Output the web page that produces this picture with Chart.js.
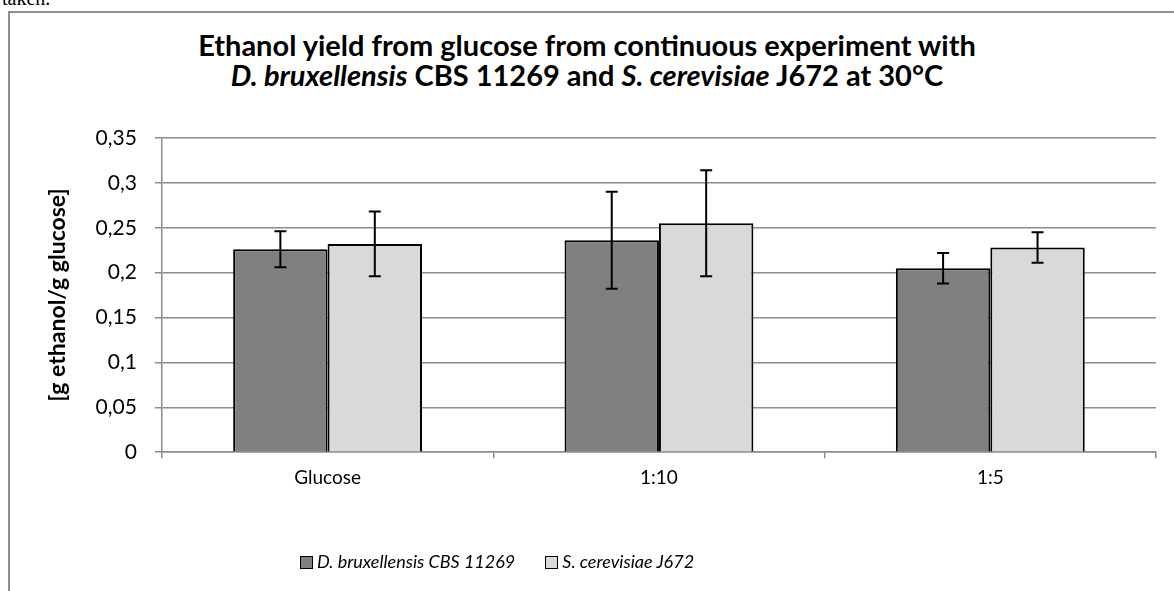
<!DOCTYPE html>
<html>
<head>
<meta charset="utf-8">
<script src="https://cdn.jsdelivr.net/npm/chart.js@4"></script>
<style>
  body { margin: 0; background: #fff; overflow: hidden; }
  #page { position: relative; width: 1174px; height: 591px; }
  #taken { position: absolute; left: 2px; top: -13px; font: 20px "Liberation Serif", serif; color: #000; }
  #frame { position: absolute; left: 8px; top: 11px; width: 1180px; height: 600px; border: 2px solid #8f8f8f; box-sizing: border-box; }
  #title { position: absolute; left: 0; width: 1174px; top: 30px; text-align: center; font: bold 29px Lato, sans-serif; line-height: 30px; color: #000; }
  #legend { position: absolute; top: 550px; left: 300px; font: italic 18px Lato, sans-serif; color: #000; white-space: nowrap; }
  #legend span.sw { display: inline-block; width: 11px; height: 11px; border: 1px solid #000; vertical-align: -1px; margin-right: 4px; }
  #legend span.item { margin-right: 30px; }
  #wrap { position: absolute; left: 0; top: 0; width: 1174px; height: 591px; }
</style>
</head>
<body>
<div id="page">
  <div id="taken">taken.</div>
  <div id="frame"></div>
  <div id="title">Ethanol yield from glucose from continuous experiment with<br><i>D. bruxellensis</i> CBS 11269 and <i>S. cerevisiae</i> J672 at 30°C</div>
  <div id="wrap"><canvas id="chart"></canvas></div>
  <div id="legend"></div>
</div>
<script>
// data
const categories = ["Glucose", "1:10", "1:5"];
const seriesNames = ["D. bruxellensis CBS 11269", "S. cerevisiae J672"];
const bruxValues = [0.226, 0.236, 0.205];
const bruxErrors = [0.020, 0.054, 0.017];
const cerevValues = [0.232, 0.255, 0.228];
const cerevErrors = [0.036, 0.059, 0.017];
const colors = ["#808080", "#d9d9d9"];

// error bars drawn from the bar elements + y scale
const errorBars = {
  id: 'errorBars',
  afterDatasetsDraw(chart) {
    const ctx = chart.ctx;
    const y = chart.scales.y;
    ctx.save();
    ctx.strokeStyle = '#000';
    ctx.lineWidth = 2;
    chart.data.datasets.forEach((ds, i) => {
      chart.getDatasetMeta(i).data.forEach((bar, j) => {
        let v = ds.data[j], e = ds.errors[j];
        let top = y.getPixelForValue(v + e), bot = y.getPixelForValue(v - e);
        ctx.beginPath();
        ctx.moveTo(bar.x, top); ctx.lineTo(bar.x, bot);
        ctx.moveTo(bar.x - 6, top); ctx.lineTo(bar.x + 6, top);
        ctx.moveTo(bar.x - 6, bot); ctx.lineTo(bar.x + 6, bot);
        ctx.stroke();
      });
    });
    ctx.restore();
  }
};

let ctx = document.getElementById('chart').getContext('2d');
window.yieldChart = new Chart(ctx, {
  type: 'bar',
  data: {
    labels: categories,
    datasets: [
      { label: seriesNames[0], data: bruxValues, errors: bruxErrors, backgroundColor: colors[0], borderColor: '#000', borderWidth: 2 },
      { label: seriesNames[1], data: cerevValues, errors: cerevErrors, backgroundColor: colors[1], borderColor: '#000', borderWidth: 2 }
    ]
  },
  options: {
    responsive: true,
    maintainAspectRatio: false,
    animation: false,
    layout: { padding: { top: 138, right: 18, bottom: 94, left: 42 } },
    plugins: { legend: { display: false }, title: { display: false }, tooltip: { enabled: false } },
    datasets: { bar: { categoryPercentage: 0.57, barPercentage: 1 } },
    scales: {
      x: {
        grid: { drawOnChartArea: false, drawTicks: true, tickLength: 6, color: '#8c8c8c', lineWidth: 1.5 },
        border: { color: '#8c8c8c', width: 1.5 },
        ticks: { color: '#000', font: { family: 'Lato', size: 19 }, padding: 8 }
      },
      y: {
        min: 0, max: 0.35,
        ticks: {
          stepSize: 0.05, color: '#000', font: { family: 'Lato', size: 21 }, padding: 18,
          callback: v => String(Math.round(v * 100) / 100).replace('.', ',')
        },
        grid: { color: '#8c8c8c', lineWidth: 1.5, tickLength: 7 },
        border: { color: '#8c8c8c', width: 1.5 },
        title: { display: true, text: '[g ethanol/g glucose]', color: '#000', font: { family: 'Lato', size: 23, weight: 'bold' }, padding: { top: 2, bottom: 6 } }
      }
    }
  },
  plugins: [errorBars]
});

// legend in html so it can sit where the original had it
let legend = document.getElementById('legend');
seriesNames.forEach((name, i) => {
  legend.innerHTML += `<span class="item"><span class="sw" style="background:${colors[i]}"></span>${name}</span>`;
});
</script>
</body>
</html>
